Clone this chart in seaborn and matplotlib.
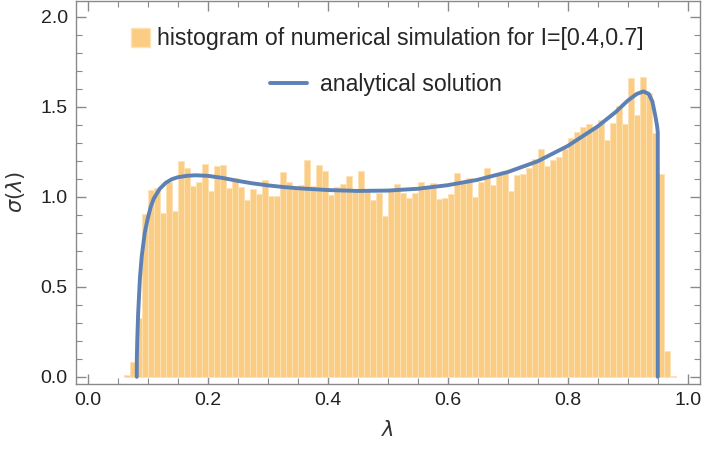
import numpy as np
import pandas as pd
import matplotlib
matplotlib.use("Agg")
import matplotlib.pyplot as plt
import seaborn as sns
from matplotlib.patches import Patch
from matplotlib.lines import Line2D
import matplotlib.ticker as mtick

# histogram: bin edges start at 0.06, width 0.01, heights
bin_start = 0.06
bin_width = 0.01
bar_heights = [
    0.010, 0.083, 0.326, 0.907, 1.039, 1.048, 0.909, 1.081, 0.922, 1.200,
    1.159, 1.061, 1.080, 1.183, 1.035, 1.172, 1.178, 1.048, 1.104, 1.056,
    0.983, 1.041, 1.015, 1.096, 1.006, 1.006, 1.137, 1.083, 1.063, 1.067,
    1.204, 1.061, 1.178, 1.144, 1.009, 1.056, 1.074, 1.117, 1.043, 1.141,
    1.040, 0.983, 1.024, 0.896, 1.039, 1.070, 1.024, 0.996, 1.020, 1.085,
    1.061, 1.076, 0.987, 0.993, 1.017, 1.131, 1.076, 1.104, 1.002, 1.085,
    1.159, 1.067, 1.128, 1.145, 1.035, 1.122, 1.127, 1.161, 1.208, 1.265,
    1.172, 1.206, 1.219, 1.265, 1.326, 1.358, 1.390, 1.406, 1.390, 1.428,
    1.317, 1.409, 1.506, 1.406, 1.659, 1.456, 1.665, 1.576, 1.354, 1.126,
    0.146, 0.005,
]

# analytical solution, points
curve_lam = [0.0817, 0.0818, 0.0825, 0.084, 0.087, 0.090, 0.095, 0.100, 0.105,
             0.110, 0.120, 0.130, 0.140, 0.150, 0.165, 0.180, 0.200, 0.225,
             0.250, 0.275, 0.300, 0.325, 0.350, 0.400, 0.450, 0.500, 0.550,
             0.600, 0.650, 0.700, 0.750, 0.800, 0.850, 0.880, 0.900, 0.915,
             0.926, 0.935, 0.941, 0.9465, 0.949, 0.950, 0.950]
curve_sigma = [0.0, 0.1, 0.2, 0.35, 0.55, 0.67, 0.80, 0.88, 0.945,
               0.99, 1.045, 1.078, 1.098, 1.109, 1.117, 1.12, 1.117, 1.105,
               1.089, 1.075, 1.064, 1.055, 1.048, 1.038, 1.033, 1.035, 1.045,
               1.065, 1.095, 1.138, 1.198, 1.283, 1.392, 1.472, 1.535, 1.572,
               1.586, 1.572, 1.53, 1.44, 1.39, 1.36, 0.0]

xticks = [0.0, 0.2, 0.4, 0.6, 0.8, 1.0]
yticks = [0.0, 0.5, 1.0, 1.5, 2.0]

hist_label = "histogram of numerical simulation for I=[0.4,0.7]"
line_label = "analytical solution"

bar_color = "#FBCD84"
line_color = "#5E81B5"

sns.set_style("ticks")
plt.rcParams["font.family"] = ["Liberation Sans", "DejaVu Sans"]
plt.rcParams["mathtext.fontset"] = "dejavusans"

centers = bin_start + bin_width * (np.arange(len(bar_heights)) + 0.5)
df_hist = pd.DataFrame({"lam": centers, "h": bar_heights})
df_curve = pd.DataFrame({"lam": curve_lam, "sigma": curve_sigma})

fig = plt.figure(figsize=(7.04, 4.5), dpi=100)
ax = fig.add_axes([0.108, 0.147, 0.886, 0.851])

bin_end = bin_start + bin_width * len(bar_heights)
sns.histplot(data=df_hist, x="lam", weights="h", binwidth=bin_width,
             binrange=(bin_start, bin_end), ax=ax,
             color=bar_color, alpha=1.0, edgecolor="#FDE2B4", linewidth=0.6)
sns.lineplot(data=df_curve, x="lam", y="sigma", ax=ax, estimator=None,
             sort=False, color=line_color, linewidth=2.8)

ax.set_xlim(-0.0195, 1.02)
ax.set_ylim(-0.039, 2.089)
ax.set_xticks(xticks)
ax.set_yticks(yticks)
ax.xaxis.set_major_formatter(mtick.FormatStrFormatter("%.1f"))
ax.yaxis.set_major_formatter(mtick.FormatStrFormatter("%.1f"))
ax.xaxis.set_minor_locator(mtick.MultipleLocator(0.05))
ax.yaxis.set_minor_locator(mtick.MultipleLocator(0.1))
ax.tick_params(which="both", direction="in", top=True, right=True,
               color="#8a8a8a", labelsize=14, labelcolor="#222222", pad=6)
ax.tick_params(which="major", length=7, width=1)
ax.tick_params(which="minor", length=4, width=0.8)
for s in ax.spines.values():
    s.set_color("#8a8a8a")
    s.set_linewidth(1)

ax.set_xlabel(r"$\lambda$", fontsize=15, color="#333333", labelpad=8)
ax.set_ylabel(r"$\sigma(\lambda)$", fontsize=15, color="#333333", labelpad=10)

# two one-entry legends so each row is centred on its own, as in the original
leg1 = ax.legend(handles=[Patch(facecolor=bar_color, edgecolor="#FDE2B4")],
                 labels=[hist_label], loc="center",
                 bbox_to_anchor=(0.499, 0.901), frameon=False, fontsize=16.7,
                 handlelength=0.82, handleheight=0.86, handletextpad=0.34)
ax.add_artist(leg1)
ax.legend(handles=[Line2D([0], [0], color=line_color, linewidth=2.8)],
          labels=[line_label], loc="center",
          bbox_to_anchor=(0.497, 0.781), frameon=False, fontsize=16.7,
          handlelength=1.6, handletextpad=0.55)

plt.savefig("out.png", dpi=100)
